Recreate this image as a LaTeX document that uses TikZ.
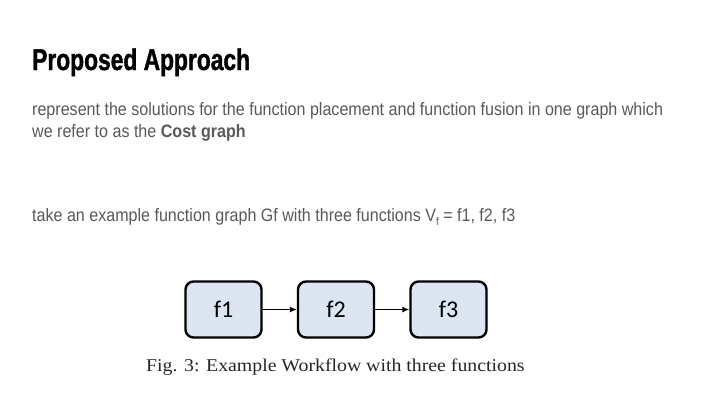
\documentclass[tikz,border=0pt]{standalone}
\usepackage{fontspec}
\setmainfont{Liberation Sans}
\newfontfamily\bodyfont[FakeStretch=0.893]{Liberation Sans}
\newfontfamily\titlefont[FakeStretch=0.76,FakeBold=1.2]{Liberation Sans Bold}
\newfontfamily\capfont[FakeStretch=1.1]{Liberation Serif}
\newfontfamily\boxfont{Carlito}
\usetikzlibrary{arrows.meta}
\definecolor{bodygray}{HTML}{595959}
\definecolor{boxfill}{HTML}{DCE6F2}
\newcommand{\lowsub}[1]{\raisebox{-0.45ex}{\fontsize{11}{12}\selectfont #1}}
\begin{document}
\begin{tikzpicture}[x=1pt,y=-1pt,
  title/.style={anchor=base west,inner sep=0pt,font=\titlefont\fontsize{30}{36}\selectfont},
  body/.style={anchor=base west,inner sep=0pt,text=bodygray,font=\bodyfont\fontsize{18}{22}\selectfont},
  fbox/.style={draw=black,line width=2.4pt,fill=boxfill,rounded corners=8pt,minimum width=76pt,minimum height=56pt,inner sep=0pt,font=\boxfont\fontsize{24}{26}\selectfont},
  link/.style={-{Latex[length=7pt,width=6pt]},line width=1.2pt},
  caption/.style={anchor=base west,inner sep=0pt,text=black!85,font=\capfont\fontsize{18}{21}\selectfont}]
\useasboundingbox (0,0) rectangle (720,405);
\fill[white] (0,0) rectangle (720,405);
\node[title] (t) at (32,70) {Proposed Approach};
\node[body] (l1) at (32,115) {represent the solutions for the function placement and function fusion in one graph which};
\node[body] (l2) at (32,137) {we refer to as the \textbf{Cost graph}};
\node[body] (l3) at (32,221) {take an example function graph Gf with three functions V\lowsub{f} = f1, f2, f3};
\node[fbox] (f1) at (223.5,309.5) {f1};
\node[fbox] (f2) at (336,309.5) {f2};
\node[fbox] (f3) at (448.5,309.5) {f3};
\draw[link] (f1) -- (f2);
\draw[link] (f2) -- (f3);
\node[caption] (cap) at (146,371) {Fig. 3: Example Workflow with three functions};
\end{tikzpicture}
\end{document}
